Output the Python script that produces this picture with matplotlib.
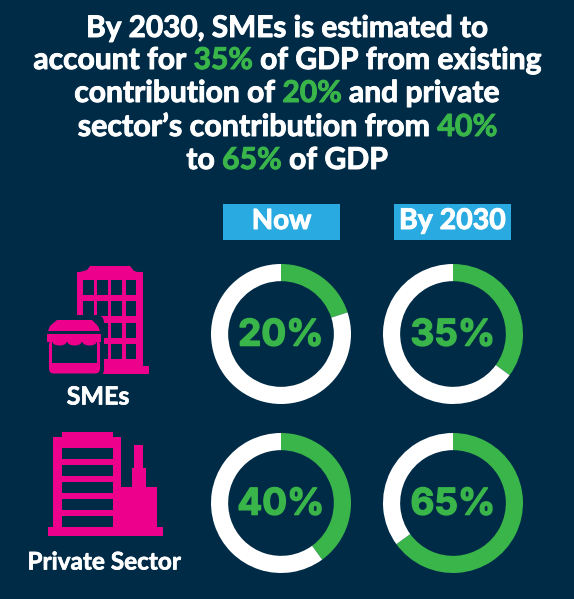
import matplotlib
matplotlib.use("Agg")
import matplotlib.pyplot as plt
import matplotlib.patheffects as pe
from matplotlib.patches import Rectangle, Polygon, FancyBboxPatch, Ellipse

W, H = 574, 599
BG, GREEN, PINK, BLUE, WHITE = "#002b47", "#39b54a", "#ec008c", "#29abe2", "#ffffff"
FONT = "Lato"

periods = ["Now", "By 2030"]
sectors = ["SMEs", "Private Sector"]
shares = [[20, 35], [40, 65]]
title_lines = [
    [("By 2030, SMEs is estimated to", WHITE)],
    [("account for ", WHITE), ("35%", GREEN), (" of GDP from existing", WHITE)],
    [("contribution of ", WHITE), ("20%", GREEN), (" and private", WHITE)],
    [("sector\u2019s contribution from ", WHITE), ("40%", GREEN)],
    [("to ", WHITE), ("65%", GREEN), (" of GDP", WHITE)],
]

fig = plt.figure(figsize=(W / 100, H / 100), dpi=100, facecolor=BG)
ax = fig.add_axes([0, 0, 1, 1])
ax.set_xlim(0, W)
ax.set_ylim(H, 0)
ax.axis("off")
rend = fig.canvas.get_renderer()


def heavy(c, w=0.7):
    return [pe.withStroke(linewidth=w, foreground=c)]


def mixed_line(parts, cx, y, size):
    arts = [ax.text(0, y, t, color=c, fontsize=size, family=FONT, weight="bold",
                    va="center", ha="left", path_effects=heavy(c)) for t, c in parts]
    full = "".join(t for t, _ in parts)
    probe = ax.text(0, y, full.replace(" ", "\u00a0"), fontsize=size, family=FONT, weight="bold")
    total = probe.get_window_extent(rend).width
    x0 = cx - total / 2
    prefix = ""
    for a, (t, _) in zip(arts, parts):
        if prefix:
            probe.set_text(prefix.replace(" ", "\u00a0"))
            off = probe.get_window_extent(rend).width
        else:
            off = 0
        a.set_x(x0 + off)
        a.set_text(t.replace(" ", "\u00a0"))
        prefix += t
    probe.remove()


title_ys = [28, 60, 93, 127, 160]
title_cx = [287, 287.5, 287, 287.5, 287]
title_sz = [21.4, 21.6, 21.6, 21.9, 21.7]
for parts, y, cx, s in zip(title_lines, title_ys, title_cx, title_sz):
    mixed_line(parts, cx, y, s)

# period headers
header_boxes = [(223, 204, 117, 36), (394, 204, 117, 36)]
for (x, y, w, h), label in zip(header_boxes, periods):
    ax.add_patch(Rectangle((x, y), w, h, fc=BLUE, ec="none"))
    ax.text(x + w / 2, y + h / 2 - 1, label, color=WHITE, fontsize=20 if label == "Now" else 20.5,
            family=FONT, weight="bold", ha="center", va="center", path_effects=heavy(WHITE))

# donuts
centers_x = [281, 453]
centers_y = [334, 503]
R = 70
for i, cy in enumerate(centers_y):
    for j, cx in enumerate(centers_x):
        v = shares[i][j]
        a = fig.add_axes([(cx - R) / W, 1 - (cy + R) / H, 2 * R / W, 2 * R / H])
        a.pie([v, 100 - v], colors=[GREEN, WHITE], startangle=90, counterclock=False,
              radius=1.0, wedgeprops=dict(width=0.245, linewidth=0))
        a.set_xlim(-1, 1)
        a.set_ylim(-1, 1)
        a.text(0, 0.02, f"{v}%", color=GREEN, fontsize=26.5, family="Inter", weight="bold",
               ha="center", va="center_baseline", path_effects=heavy(GREEN, 1.0))


# SME icon
def rect(x0, y0, x1, y1, c=PINK, z=2):
    ax.add_patch(Rectangle((x0, y0), x1 - x0, y1 - y0, fc=c, ec="none", zorder=z))


rect(77, 272, 143, 373)
ax.add_patch(Polygon([(77, 277), (80, 272), (87, 270), (90, 266), (130, 266), (134, 271),
                      (141, 273), (143, 277)], fc=PINK, ec="none", zorder=2))
rect(102, 366, 149, 374)
for x0, x1 in [(83, 94), (97, 108), (111, 122), (126, 136)]:
    for y0, y1 in [(280, 295), (301, 316), (323, 338), (344, 359)]:
        rect(x0, y0, x1, y1, BG)
# shop halo
ax.add_patch(FancyBboxPatch((44, 315), 60, 62, boxstyle="round,pad=0,rounding_size=8",
                            fc=BG, ec="none", zorder=3))
ax.add_patch(FancyBboxPatch((49, 340), 51, 33.5, boxstyle="round,pad=0,rounding_size=5",
                            fc=PINK, ec="none", zorder=4))
ax.add_patch(Polygon([(48, 331), (50, 326), (57, 320), (92, 320), (98, 326), (100, 331)],
                     fc=PINK, ec="none", zorder=4))
rect(47, 333.5, 101, 342, PINK, 4)
rect(52, 342, 97, 363, BG, 5)
for x0 in [52, 67, 82]:
    ax.add_patch(Ellipse((x0 + 7.5, 342), 14, 7, fc=PINK, ec="none", zorder=6))
ax.text(98, 397, sectors[0], color=WHITE, fontsize=18, family=FONT, weight="bold",
        ha="center", va="center", path_effects=heavy(WHITE, 0.5))

# Private sector icon
rect(62, 432, 113, 438)
rect(53, 437, 121, 528)
rect(113, 487, 157, 528)
rect(132, 468, 146, 488)
rect(134, 445, 143, 469)
rect(48, 527, 163, 536)
for y0, y1 in [(448, 459), (465, 476), (482, 493), (499, 510), (516, 527)]:
    rect(62, y0, 113, y1, BG)
ax.text(104, 562, sectors[1], color=WHITE, fontsize=17.5, family=FONT, weight="bold",
        ha="center", va="center", path_effects=heavy(WHITE, 0.5))

fig.savefig("out.png", dpi=100, facecolor=BG)
